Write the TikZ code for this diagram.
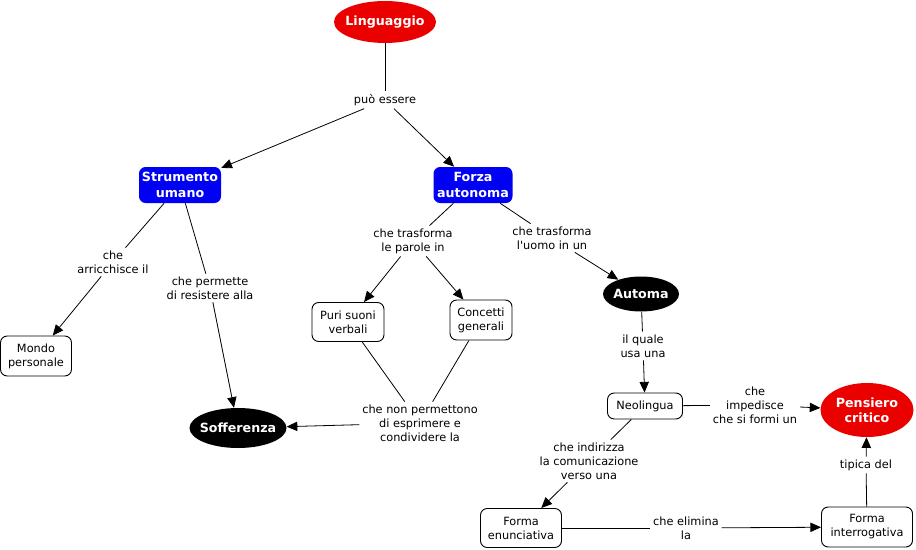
\documentclass[tikz,border=0pt]{standalone}
\usepackage{fontspec}
\setmainfont{DejaVu Sans}
\usetikzlibrary{shapes.geometric,arrows.meta}
\definecolor{cred}{RGB}{235,0,0}
\definecolor{cblue}{RGB}{0,0,245}
\tikzset{
  lbl/.style={align=center,inner sep=2pt,font=\fontsize{8.5pt}{10.5pt}\selectfont,fill=white},
  box/.style={draw=black,rounded corners=5pt,fill=white,align=center,inner sep=0pt,font=\fontsize{8.5pt}{10.5pt}\selectfont,line width=0.7pt},
  bbox/.style={draw=none,rounded corners=5pt,fill=cblue,text=white,align=center,inner sep=0pt,font=\bfseries\fontsize{9.5pt}{11.5pt}\selectfont},
  ell/.style={ellipse,inner sep=0pt},
  etxt/.style={text=white,align=center,font=\bfseries\fontsize{9.5pt}{11.5pt}\selectfont},
  conn/.style={line width=0.6pt},
  arr/.style={line width=0.6pt,-{Triangle[length=8pt,width=7pt]}}
}
\begin{document}
\begin{tikzpicture}[x=0.75pt,y=-0.75pt]
\useasboundingbox (0,0) rectangle (916,549);
% nodes
\node[ell,fill=cred,minimum width=76.5pt,minimum height=31.5pt,label={[etxt]center:Linguaggio}] (ling) at (385,22) {};
\node[bbox,minimum width=61.5pt,minimum height=27pt] (strum) at (180,185) {Strumento\\umano};
\node[bbox,minimum width=59.25pt,minimum height=27pt] (forza) at (473,185) {Forza\\autonoma};
\node[box,minimum width=53.25pt,minimum height=30pt] (mondo) at (36,356) {Mondo\\personale};
\node[ell,fill=black,minimum width=72.75pt,minimum height=30pt,label={[etxt]center:Sofferenza}] (soff) at (238,428) {};
\node[box,minimum width=54pt,minimum height=29.25pt] (puri) at (348,322) {Puri suoni\\verbali};
\node[box,minimum width=46.5pt,minimum height=30pt] (conc) at (481,320) {Concetti\\generali};
\node[ell,fill=black,minimum width=57pt,minimum height=26.25pt,label={[etxt]center:Automa}] (autom) at (641,294) {};
\node[box,minimum width=56.25pt,minimum height=19.5pt] (neo) at (645,406) {Neolingua};
\node[ell,fill=cred,minimum width=69.75pt,minimum height=40.5pt,label={[etxt]center:Pensiero\\critico}] (pens) at (867,410) {};
\node[box,minimum width=60.75pt,minimum height=29.25pt] (fenun) at (521,528) {Forma\\enunciativa};
\node[box,minimum width=68.25pt,minimum height=30pt] (finter) at (867,527) {Forma\\interrogativa};
% labels
\node[lbl] (l1) at (385,100) {può essere};
\node[lbl] (l2) at (113,262) {che\\arricchisce il};
\node[lbl] (l3) at (210,288) {che permette\\di resistere alla};
\node[lbl] (l4) at (413,241) {che trasforma\\le parole in};
\node[lbl] (l5) at (552,238) {che trasforma\\l\textquotesingle uomo in un};
\node[lbl] (l6) at (420,423) {che non permettono\\di esprimere e\\condividere la};
\node[lbl] (l7) at (643,346) {il quale\\usa una};
\node[lbl] (l8) at (755,405) {che\\impedisce\\che si formi un};
\node[lbl] (l9) at (589,461) {che indirizza\\la comunicazione\\verso una};
\node[lbl] (l10) at (686,528) {che elimina\\la};
\node[lbl] (l11) at (866,465) {tipica del};
% connectors
\draw[conn] (ling) -- (l1);
\draw[arr] (l1) -- (strum);
\draw[arr] (l1) -- (forza);
\draw[conn] (strum) -- (l2);
\draw[arr] (l2) -- (mondo);
\draw[conn] (strum) -- (l3);
\draw[arr] (l3) -- (soff);
\draw[conn] (forza) -- (l4);
\draw[arr] (l4) -- (puri);
\draw[arr] (l4) -- (conc);
\draw[conn] (forza) -- (l5);
\draw[arr] (l5) -- (autom);
\draw[conn] (puri) -- (l6);
\draw[conn] (conc) -- (l6);
\draw[arr] (l6) -- (soff);
\draw[conn] (autom) -- (l7);
\draw[arr] (l7) -- (neo);
\draw[conn] (neo) -- (l8);
\draw[arr] (l8) -- (pens);
\draw[conn] (neo) -- (l9);
\draw[arr] (l9) -- (fenun);
\draw[conn] (fenun) -- (l10);
\draw[arr] (l10) -- (finter);
\draw[conn] (finter) -- (l11);
\draw[arr] (l11) -- (pens);
\end{tikzpicture}
\end{document}
